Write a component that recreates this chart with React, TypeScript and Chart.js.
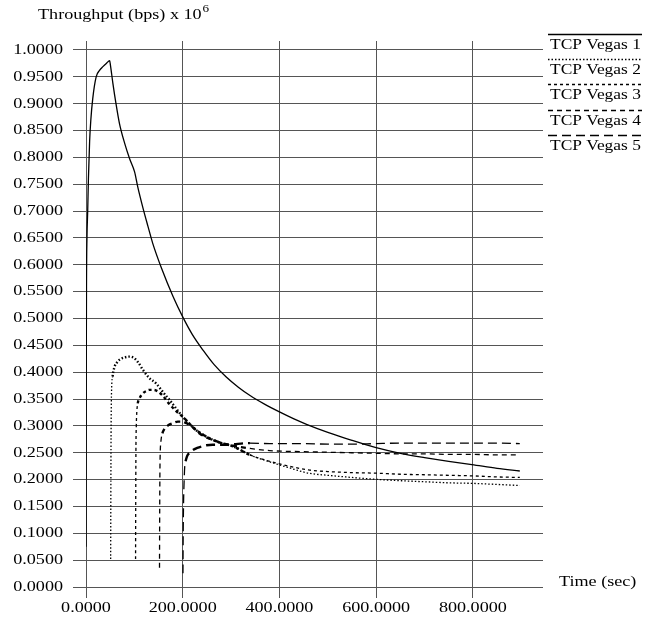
import React, { useEffect, useRef } from "react";
import { Chart, registerables } from "chart.js";

Chart.register(...registerables);

// ---- data ----
const seriesNames = ["TCP Vegas 1", "TCP Vegas 2", "TCP Vegas 3", "TCP Vegas 4", "TCP Vegas 5"];
const xTickValues = [0, 200, 400, 600, 800];
const yTickValues = [
  0, 0.05, 0.1, 0.15, 0.2, 0.25, 0.3, 0.35, 0.4, 0.45, 0.5,
  0.55, 0.6, 0.65, 0.7, 0.75, 0.8, 0.85, 0.9, 0.95, 1.0,
];

const vegas1T = [0, 0.4, 1, 2, 3.5, 5, 7.5, 10, 14, 21, 28, 35, 42, 49, 50.5, 55.6, 62, 69, 80, 90, 100.5, 107, 118, 128, 138, 156, 180, 200, 220, 242, 265, 290, 315, 340, 370, 400, 430, 456, 500, 550, 598, 650, 700, 750, 798, 850, 897];
const vegas1Y = [0.075, 0.35, 0.56, 0.65, 0.7, 0.76, 0.83, 0.87, 0.91, 0.95, 0.962, 0.969, 0.975, 0.98, 0.972, 0.938, 0.9, 0.864, 0.826, 0.798, 0.773, 0.745, 0.705, 0.672, 0.64, 0.594, 0.541, 0.503, 0.47, 0.441, 0.414, 0.391, 0.372, 0.356, 0.34, 0.326, 0.313, 0.303, 0.288, 0.273, 0.26, 0.249, 0.241, 0.234, 0.228, 0.221, 0.216];

const vegas2T = [51, 51.3, 51.7, 52.2, 53, 55, 59, 64, 69, 78, 90, 100, 108, 118, 130, 145, 160, 173, 186, 200, 214, 228, 245, 262, 280, 304, 339, 380, 420, 460, 500, 550, 598, 650, 700, 750, 798, 850, 897];
const vegas2Y = [0.052, 0.15, 0.26, 0.33, 0.37, 0.392, 0.41, 0.418, 0.423, 0.427, 0.429, 0.426, 0.418, 0.404, 0.39, 0.379, 0.362, 0.348, 0.333, 0.317, 0.304, 0.292, 0.282, 0.274, 0.268, 0.262, 0.246, 0.233, 0.222, 0.212, 0.208, 0.204, 0.2006, 0.198, 0.196, 0.194, 0.193, 0.191, 0.189];

const vegas3T = [102.5, 102.8, 103.2, 104, 105, 107, 111, 118, 125, 131, 140, 149, 158, 166, 175, 186, 200, 214, 228, 245, 262, 280, 304, 339, 380, 420, 460, 500, 550, 598, 650, 700, 750, 798, 850, 897];
const vegas3Y = [0.052, 0.15, 0.25, 0.3, 0.325, 0.342, 0.352, 0.361, 0.365, 0.367, 0.367, 0.364, 0.357, 0.348, 0.338, 0.328, 0.317, 0.304, 0.292, 0.282, 0.274, 0.268, 0.262, 0.246, 0.234, 0.225, 0.218, 0.215, 0.213, 0.212, 0.21, 0.209, 0.208, 0.207, 0.205, 0.204];

const vegas4T = [152, 152.3, 152.8, 153.5, 155, 158, 162.5, 170, 180, 190, 197, 205, 214, 225, 235, 248, 262, 280, 304, 339, 380, 450, 500, 550, 598, 650, 700, 750, 798, 850, 897];
const vegas4Y = [0.036, 0.12, 0.21, 0.25, 0.272, 0.286, 0.295, 0.301, 0.305, 0.308, 0.308, 0.306, 0.302, 0.294, 0.286, 0.279, 0.274, 0.268, 0.263, 0.258, 0.254, 0.252, 0.251, 0.25, 0.249, 0.248, 0.248, 0.247, 0.247, 0.246, 0.246];

const vegas5T = [200.5, 200.8, 201.3, 202, 203, 204, 206, 208, 211, 216, 221, 230, 240, 249, 262, 290, 339, 380, 450, 500, 550, 598, 650, 700, 750, 798, 850, 897];
const vegas5Y = [0.0255, 0.08, 0.13, 0.17, 0.2, 0.222, 0.234, 0.241, 0.247, 0.251, 0.255, 0.259, 0.262, 0.264, 0.265, 0.265, 0.268, 0.267, 0.267, 0.266, 0.266, 0.267, 0.268, 0.268, 0.268, 0.268, 0.268, 0.267];

const seriesT = [vegas1T, vegas2T, vegas3T, vegas4T, vegas5T];
const seriesY = [vegas1Y, vegas2Y, vegas3Y, vegas4Y, vegas5Y];
const seriesDash: number[][] = [[], [1.5, 2], [3, 3], [5, 4], [9, 5]];
// time range where the transmission rate oscillates strongly (drawn thicker)
const fuzzStart = [0, 54, 106, 156, 205];
const fuzzEnd = [0, 320, 320, 320, 320];

const FONT = '"Liberation Serif", "Times New Roman", serif';

function stretchText(
  ctx: CanvasRenderingContext2D,
  text: string,
  x: number,
  y: number,
  align: "left" | "right" | "center",
  size: number,
  sx: number
) {
  ctx.save();
  ctx.font = `${size}px ${FONT}`;
  ctx.textBaseline = "middle";
  ctx.textAlign = "left";
  const w = ctx.measureText(text).width * sx;
  const left = align === "left" ? x : align === "right" ? x - w : x - w / 2;
  ctx.translate(left, y);
  ctx.scale(sx, 1);
  ctx.fillStyle = "#000";
  ctx.fillText(text, 0, 0);
  ctx.restore();
  return w;
}

const textPlugin = {
  id: "textPlugin",
  afterDraw(chart: any) {
    const ctx: CanvasRenderingContext2D = chart.ctx;
    const xs = chart.scales.x;
    const ys = chart.scales.y;
    const FS = 14.5;
    const SX = 1.25;
    yTickValues.forEach((v) => {
      stretchText(ctx, v.toFixed(4), 63, ys.getPixelForValue(v), "right", FS, SX);
    });
    xTickValues.forEach((v) => {
      stretchText(ctx, v.toFixed(4), xs.getPixelForValue(v), 608, "center", FS, SX);
    });
    const w = stretchText(ctx, "Throughput (bps) x 10", 38, 15, "left", FS, SX);
    stretchText(ctx, "6", 38 + w + 1, 9, "left", 10.5, SX);
    stretchText(ctx, "Time (sec)", 559, 582, "left", FS, SX);
    for (let i = 0; i < seriesNames.length; i++) {
      const ly = Math.round(34 + 25.2 * i) + 0.5;
      ctx.save();
      ctx.strokeStyle = "#000";
      ctx.lineWidth = 1.3;
      ctx.setLineDash(seriesDash[i]);
      ctx.beginPath();
      ctx.moveTo(548, ly);
      ctx.lineTo(642, ly);
      ctx.stroke();
      ctx.restore();
      stretchText(ctx, seriesNames[i], 550, ly + 10.5, "left", FS, 1.2);
    }
  },
};

export default function App() {
  const ref = useRef<HTMLCanvasElement | null>(null);

  useEffect(() => {
    if (!ref.current) return;
    const datasets = seriesNames.map((name, i) => ({
      label: name,
      data: seriesT[i].map((t, j) => ({ x: t, y: seriesY[i][j] })),
      borderColor: "#000",
      backgroundColor: "#000",
      borderWidth: 1.3,
      borderDash: seriesDash[i],
      pointRadius: 0,
      fill: false,
      cubicInterpolationMode: "monotone" as const,
      segment: {
        borderWidth: (c: any) =>
          i > 0 && c.p0.parsed.x >= fuzzStart[i] && c.p0.parsed.x < fuzzEnd[i] ? 2.4 : 1.3,
      },
    }));
    const chart = new Chart(ref.current, {
      type: "line",
      data: { datasets },
      options: {
        responsive: false,
        devicePixelRatio: 1,
        animation: false,
        layout: { padding: { left: 0, top: 41, right: 107, bottom: 0 } },
        plugins: { legend: { display: false }, tooltip: { enabled: false } },
        scales: {
          x: {
            type: "linear",
            min: 0,
            max: 945,
            afterBuildTicks: (s: any) => {
              s.ticks = xTickValues.map((v) => ({ value: v }));
            },
            afterFit: (s: any) => {
              s.height = 41;
            },
            ticks: { display: false },
            grid: { color: "#555", lineWidth: 1, tickLength: 11, drawTicks: true },
            border: { display: false },
          },
          y: {
            type: "linear",
            min: 0,
            max: 546 / 537,
            afterBuildTicks: (s: any) => {
              s.ticks = yTickValues.map((v) => ({ value: v }));
            },
            afterFit: (s: any) => {
              s.width = 86;
            },
            ticks: { display: false },
            grid: { color: "#555", lineWidth: 1, tickLength: 13, drawTicks: true },
            border: { display: false },
          },
        },
      },
      plugins: [textPlugin],
    });
    return () => chart.destroy();
  }, []);

  return (
    <div style={{ position: "fixed", left: 0, top: 0, width: 650, height: 628, background: "#fff" }}>
      <canvas ref={ref} width={650} height={628} style={{ display: "block", width: 650, height: 628 }} />
    </div>
  );
}
